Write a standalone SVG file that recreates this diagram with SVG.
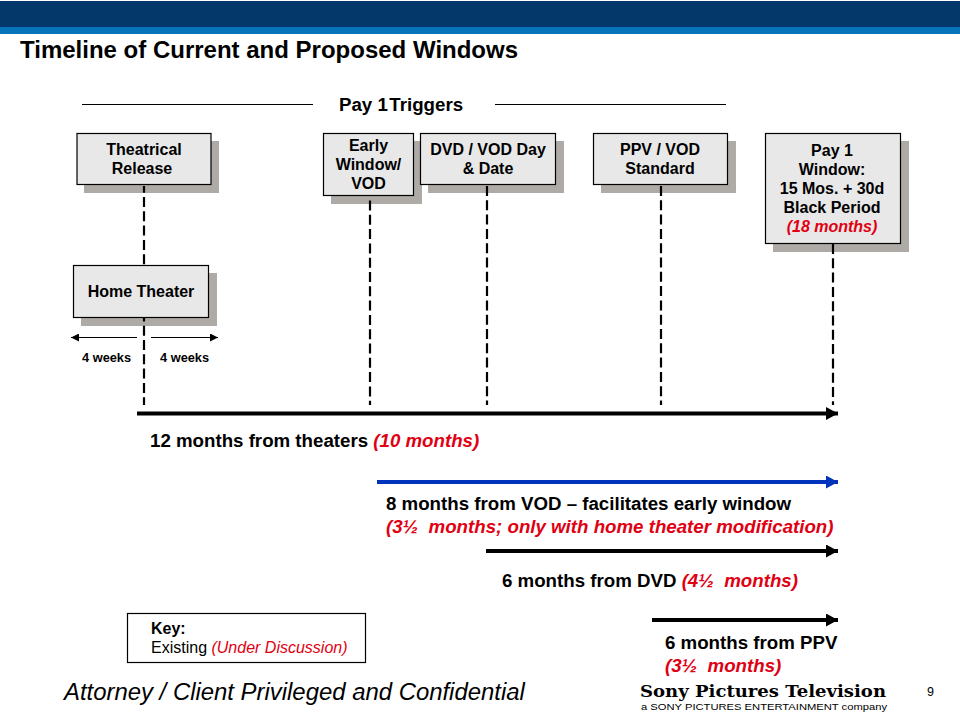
<svg xmlns="http://www.w3.org/2000/svg" width="960" height="720" viewBox="0 0 960 720">
<style>
text{font-family:"Liberation Sans",Arial,sans-serif;fill:#000;white-space:pre}
.n{font-size:16px;font-weight:700;text-anchor:middle}
.m{font-size:18.7px;font-weight:700}
.r{fill:#e00012;font-style:italic;font-weight:700}
.box{fill:#e8e8e8;stroke:#000;stroke-width:1.2}
.sh{fill:#aeaaa6}
.dash{stroke:#000;stroke-width:2.2;stroke-dasharray:10 4.3;fill:none}
.thin{stroke:#000;stroke-width:1.2;fill:none}
.thick{stroke:#000;stroke-width:4;fill:none}
</style>
<defs>
<marker id="ak" markerUnits="userSpaceOnUse" markerWidth="12" markerHeight="13" refX="12" refY="6.500" orient="auto"><path d="M0 0L12 6.500L0 13Z" fill="#000"/></marker>
<marker id="ab" markerUnits="userSpaceOnUse" markerWidth="12" markerHeight="13" refX="12" refY="6.500" orient="auto"><path d="M0 0L12 6.500L0 13Z" fill="#0033bb"/></marker>
<marker id="as" markerUnits="userSpaceOnUse" markerWidth="8" markerHeight="8" refX="8" refY="4" orient="auto"><path d="M0 0L8 4L0 8Z" fill="#000"/></marker>
</defs>
<g id="header"><rect x="0" y="1" width="960" height="26" fill="#04386a"/><rect x="0" y="27" width="960" height="7" fill="#0674bb"/></g>
<text x="20" y="57.500" font-size="24" font-weight="700">Timeline of Current and Proposed Windows</text>
<g id="shadows">
<rect class="sh" x="84" y="141" width="135" height="52"/>
<rect class="sh" x="331" y="141" width="91" height="63"/>
<rect class="sh" x="428" y="141" width="136" height="52"/>
<rect class="sh" x="601" y="141" width="135" height="52"/>
<rect class="sh" x="773" y="141" width="136" height="111"/>
<rect class="sh" x="81" y="273" width="136" height="53"/>
</g>
<g id="connectors">
<path class="thin" d="M82 104.500H313M495 104.500H726"/>
<path class="dash" stroke-dashoffset="3.300" d="M144 186V405"/>
<path class="dash" d="M370 200.500V405"/>
<path class="dash" d="M487 186V405"/>
<path class="dash" d="M661 186V405"/>
<path class="dash" d="M833 244V405"/>
<path class="thin" d="M137 337.500H71" marker-end="url(#as)"/>
<path class="thin" d="M151 337.500H218" marker-end="url(#as)"/>
<path class="thick" d="M137 413.500H838" marker-end="url(#ak)"/>
<path d="M377 482H838" stroke="#0033bb" stroke-width="4" fill="none" marker-end="url(#ab)"/>
<path class="thick" d="M486 551H838" marker-end="url(#ak)"/>
<path class="thick" d="M652 620H838" marker-end="url(#ak)"/>
</g>
<text x="339" y="111" font-size="18.700" font-weight="700">Pay 1<tspan dx="1.500">Triggers</tspan></text>
<g id="n-theatrical"><rect class="box" x="77" y="133.500" width="134" height="51"/><text class="n" x="144" y="155">Theatrical</text><text class="n" x="142" y="174">Release</text></g>
<g id="n-early"><rect class="box" x="323.500" y="133.500" width="90" height="62"/><text class="n" x="368.500" y="151">Early</text><text class="n" x="368.500" y="170">Window/</text><text class="n" x="368.500" y="189">VOD</text></g>
<g id="n-dvd"><rect class="box" x="420.500" y="133.500" width="135" height="51"/><text class="n" x="488" y="155">DVD / VOD Day</text><text class="n" x="488" y="174">&amp; Date</text></g>
<g id="n-ppv"><rect class="box" x="593.500" y="133.500" width="134" height="51"/><text class="n" x="660" y="155">PPV / VOD</text><text class="n" x="660" y="174">Standard</text></g>
<g id="n-pay1"><rect class="box" x="765.500" y="133.500" width="135" height="110"/><text class="n" x="832" y="156">Pay 1</text><text class="n" x="832" y="175">Window:</text><text class="n" x="832" y="194">15 Mos. + 30d</text><text class="n" x="832" y="213">Black Period</text><text class="n r" x="832" y="232">(18 months)</text></g>
<g id="n-home"><rect class="box" x="73.500" y="265.500" width="135" height="52"/><text class="n" x="141" y="297">Home Theater</text></g>
<text x="82" y="362" font-size="12.800" font-weight="700">4 weeks</text>
<text x="160" y="362" font-size="12.800" font-weight="700">4 weeks</text>
<text class="m" x="150" y="447">12 months from theaters <tspan class="r">(10 months)</tspan></text>
<text class="m" x="386" y="510">8 months from VOD – facilitates early window</text>
<text class="m r" x="386" y="533">(3½  months; only with home theater modification)</text>
<text class="m" x="502" y="587">6 months from DVD <tspan class="r">(4½  months)</tspan></text>
<text class="m" x="665" y="649">6 months from PPV</text>
<text class="m r" x="665" y="672">(3½  months)</text>
<g id="key"><rect x="127.500" y="613.500" width="238" height="49" fill="#fff" stroke="#000" stroke-width="1.2"/><text x="151" y="634" font-size="16" font-weight="700">Key:</text><text x="151" y="653" font-size="16">Existing <tspan fill="#e00012" font-style="italic">(Under Discussion)</tspan></text></g>
<text x="64" y="700" font-size="23.900" font-style="italic">Attorney / Client Privileged and Confidential</text>
<g id="logo"><text x="640" y="697" style="font-family:'DejaVu Serif',serif" font-size="16" font-weight="700" textLength="246" lengthAdjust="spacingAndGlyphs">Sony Pictures Television</text><text x="641" y="709.500" font-size="9.500" fill="#222" textLength="246" lengthAdjust="spacingAndGlyphs">a SONY PICTURES ENTERTAINMENT company</text></g>
<text x="927" y="696" font-size="12.500">9</text>
</svg>
